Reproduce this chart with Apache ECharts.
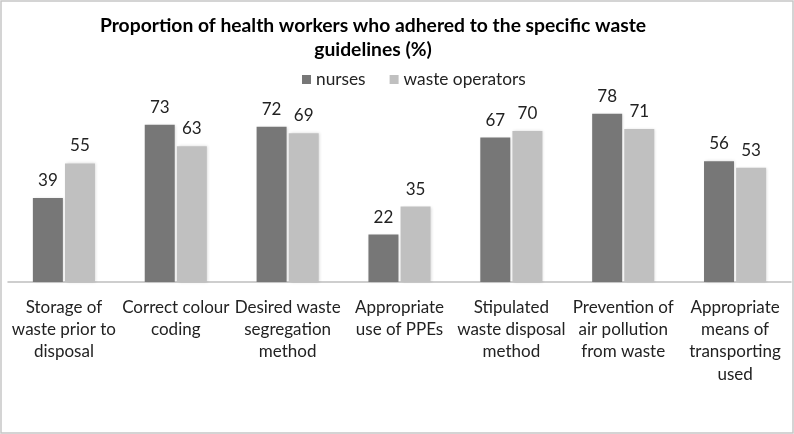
<!DOCTYPE html>
<html>
<head>
<meta charset="utf-8">
<script src="https://cdn.jsdelivr.net/npm/echarts@6/dist/echarts.min.js"></script>
<style>
html, body { margin: 0; padding: 0; background: #fff; }
#chart { width: 794px; height: 434px; }
</style>
</head>
<body>
<div id="chart"></div>
<script>
var categories = [
    'Storage of\nwaste prior to\ndisposal',
    'Correct colour\ncoding',
    'Desired waste\nsegregation\nmethod',
    'Appropriate\nuse of PPEs',
    'Stipulated\nwaste disposal\nmethod',
    'Prevention of\nair pollution\nfrom waste',
    'Appropriate\nmeans of\ntransporting\nused'
];
var nurses = [39, 73, 72, 22, 67, 78, 56];
var wasteOperators = [55, 63, 69, 35, 70, 71, 53];

var font = 'Lato';
var myChart = echarts.init(document.getElementById('chart'));
var option = {
    backgroundColor: '#fff',
    animation: false,
    textStyle: { fontFamily: font, color: '#000' },
    title: {
        text: 'Proportion of health workers who adhered to the specific waste\nguidelines (%)',
        left: 368,
        top: 9,
        textAlign: 'center',
        textStyle: { fontFamily: font, fontSize: 19.3, fontWeight: 'bold', color: '#000', lineHeight: 24 }
    },
    legend: {
        left: 297,
        top: 66,
        itemWidth: 9,
        itemHeight: 9,
        itemGap: 24,
        icon: 'rect',
        textStyle: { fontFamily: font, fontSize: 17.3, color: '#222' },
        data: ['nurses', 'waste operators']
    },
    graphic: [{
        type: 'rect',
        shape: { x: 1, y: 1, width: 792, height: 432 },
        style: { fill: 'none', stroke: '#c6c6c6', lineWidth: 1.5 },
        silent: true
    }],
    grid: { left: 8, right: 3, top: 88, bottom: 152 },
    xAxis: {
        type: 'category',
        data: categories,
        axisTick: { show: false },
        axisLine: { lineStyle: { color: '#bfbfbf', width: 1.5 } },
        axisLabel: { interval: 0, fontFamily: font, fontSize: 17, color: '#222', lineHeight: 22.3, margin: 14 }
    },
    yAxis: {
        type: 'value',
        min: 0,
        max: 90,
        show: false,
        splitLine: { show: false }
    },
    series: [{
        name: 'nurses',
        type: 'bar',
        data: nurses,
        barWidth: 30,
        barGap: '7%',
        itemStyle: { color: '#777777', shadowColor: 'rgba(0,0,0,0.15)', shadowBlur: 3, shadowOffsetX: 1 },
        label: { show: true, position: 'top', distance: 9, fontFamily: font, fontSize: 17, color: '#222' }
    }, {
        name: 'waste operators',
        type: 'bar',
        data: wasteOperators,
        barWidth: 30,
        itemStyle: { color: '#c0c0c0', shadowColor: 'rgba(0,0,0,0.15)', shadowBlur: 3, shadowOffsetX: 1 },
        label: { show: true, position: 'top', distance: 9, fontFamily: font, fontSize: 17, color: '#222' }
    }]
};
myChart.setOption(option);
</script>
</body>
</html>
